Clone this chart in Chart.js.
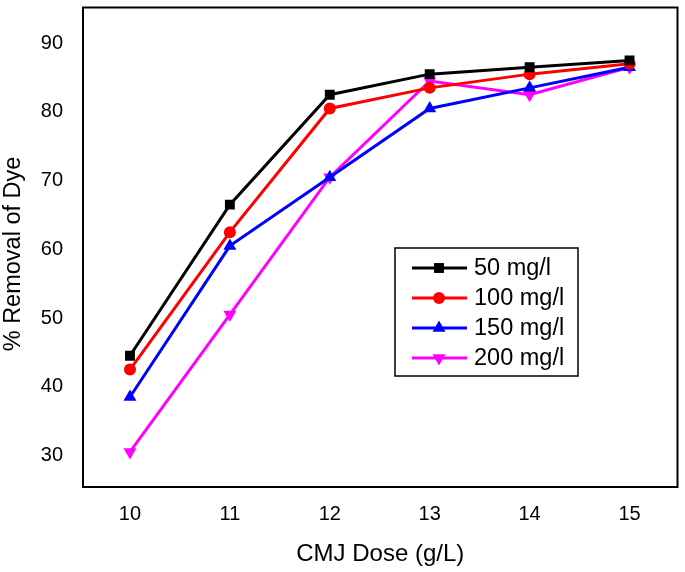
<!DOCTYPE html>
<html>
<head>
<meta charset="utf-8">
<script src="https://cdn.jsdelivr.net/npm/chart.js@4"></script>
<style>
html,body{margin:0;padding:0;background:#fff;}
#wrap{width:685px;height:572px;}
</style>
</head>
<body>
<div id="wrap"><canvas id="c" width="685" height="572"></canvas></div>
<script>
const doses = [10, 11, 12, 13, 14, 15];
const s50 = [44.5, 66.5, 82.5, 85.5, 86.5, 87.5];
const s100 = [42.5, 62.5, 80.5, 83.5, 85.5, 87.0];
const s150 = [38.5, 60.5, 70.5, 80.5, 83.5, 86.5];
const s200 = [30.5, 50.5, 70.5, 84.5, 82.5, 86.5];
const seriesLabels = ['50 mg/l', '100 mg/l', '150 mg/l', '200 mg/l'];
const xTicks = [10, 11, 12, 13, 14, 15];
const yTicks = [30, 40, 50, 60, 70, 80, 90];
const yTitle = '% Removal of Dye';
const xTitle = 'CMJ Dose (g/L)';

const FONT = "'Liberation Sans', Arial, sans-serif";
function pts(arr){ return doses.map((d,i)=>({x:d,y:arr[i]})); }

const styles = [
  {color:'#000000', pointStyle:'rect', radius:7, rotation:0},
  {color:'#ff0000', pointStyle:'circle', radius:6, rotation:0},
  {color:'#0000ff', pointStyle:'triangle', radius:7.5, rotation:0},
  {color:'#ff00ff', pointStyle:'triangle', radius:7.5, rotation:180}
];
const allSeries = [s50, s100, s150, s200];

const datasets = allSeries.map((s,i)=>({
  label: seriesLabels[i],
  data: pts(s),
  borderColor: styles[i].color,
  backgroundColor: styles[i].color,
  borderWidth: 3,
  pointStyle: styles[i].pointStyle,
  pointRadius: styles[i].radius,
  pointRotation: styles[i].rotation,
  pointBorderWidth: 0,
  pointHoverRadius: styles[i].radius,
  tension: 0
}));

const framePlugin = {
  id:'frame',
  afterDatasetsDraw(chart){
    const {ctx, chartArea:a} = chart;
    ctx.save();
    ctx.strokeStyle = '#000';
    ctx.lineWidth = 2;
    ctx.strokeRect(a.left, a.top, a.right - a.left, a.bottom - a.top);
    ctx.restore();
  }
};

const yTitlePlugin = {
  id:'yTitle',
  afterDraw(chart){
    const ctx = chart.ctx;
    ctx.save();
    ctx.translate(14, 254);
    ctx.rotate(-Math.PI/2);
    ctx.fillStyle = '#000';
    ctx.font = '23.5px ' + FONT;
    ctx.textAlign = 'center';
    ctx.textBaseline = 'middle';
    ctx.fillText(yTitle, 0, 0);
    ctx.restore();
  }
};

const legendPlugin = {
  id:'boxLegend',
  afterDraw(chart){
    const ctx = chart.ctx;
    ctx.save();
    ctx.fillStyle = '#fff';
    ctx.fillRect(395, 248, 183, 128);
    ctx.strokeStyle = '#000';
    ctx.lineWidth = 1.5;
    ctx.strokeRect(395, 248, 183, 128);
    const ys = [268, 298, 328, 358];
    chart.data.datasets.forEach((ds,i)=>{
      const y = ys[i];
      ctx.strokeStyle = ds.borderColor;
      ctx.lineWidth = 3;
      ctx.beginPath();
      ctx.moveTo(412, y);
      ctx.lineTo(467, y);
      ctx.stroke();
      ctx.fillStyle = ds.backgroundColor;
      Chart.helpers.drawPoint(ctx, {pointStyle: ds.pointStyle, rotation: ds.pointRotation, radius: ds.pointRadius, borderWidth:0}, 439, y);
      ctx.fillStyle = '#000';
      ctx.font = '23.5px ' + FONT;
      ctx.textBaseline = 'middle';
      ctx.textAlign = 'left';
      ctx.fillText(ds.label, 474, y + 1);
    });
    ctx.restore();
  }
};

new Chart(document.getElementById('c'), {
  type:'line',
  data:{datasets},
  plugins:[framePlugin, legendPlugin, yTitlePlugin],
  options:{
    responsive:false,
    animation:false,
    devicePixelRatio:1,
    layout:{padding:{top:4, right:7, left:0, bottom:0}},
    plugins:{legend:{display:false}, tooltip:{enabled:false}},
    scales:{
      x:{
        type:'linear',
        min:9.53, max:15.48,
        grid:{display:false, drawTicks:false},
        border:{display:false},
        afterBuildTicks(scale){ scale.ticks = xTicks.map(v=>({value:v})); },
        afterFit(scale){ scale.height = 85; scale.paddingLeft = 0; scale.paddingRight = 0; },
        ticks:{color:'#000', font:{family:FONT, size:20}, padding:15},
        title:{display:true, text:xTitle, color:'#000', font:{family:FONT, size:24}, padding:{top:0,bottom:3}}
      },
      y:{
        type:'linear',
        min:25.4, max:95.2,
        grid:{display:false, drawTicks:false},
        border:{display:false},
        afterBuildTicks(scale){ scale.ticks = yTicks.map(v=>({value:v})); },
        afterFit(scale){ scale.width = 83; scale.paddingTop = 0; scale.paddingBottom = 0; },
        ticks:{color:'#000', font:{family:FONT, size:20}, padding:20},
        title:{display:false}
      }
    }
  }
});
</script>
</body>
</html>
